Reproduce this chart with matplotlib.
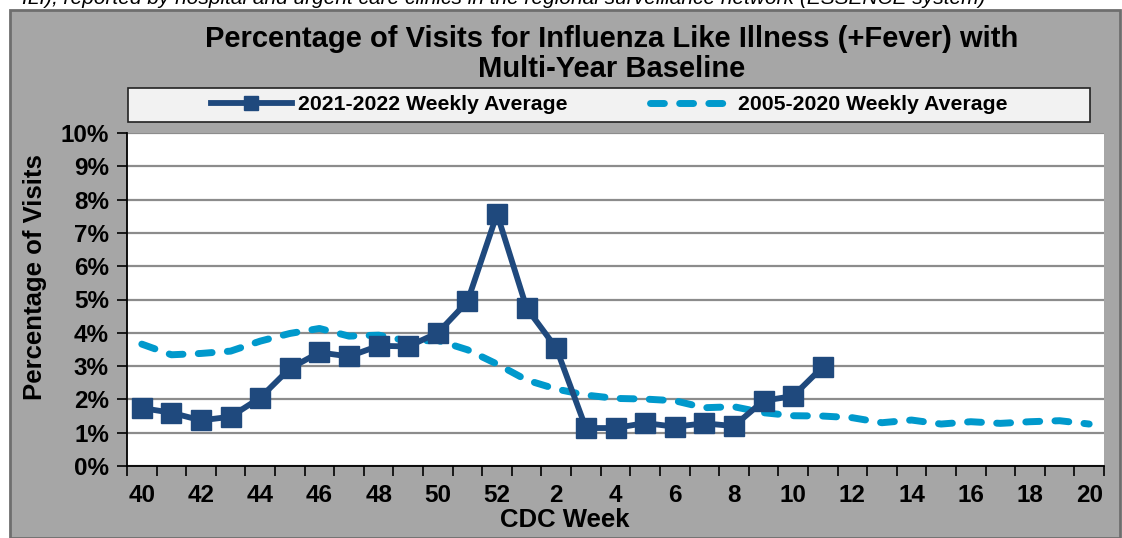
import matplotlib
matplotlib.use("Agg")
import matplotlib.pyplot as plt
from matplotlib.patches import Rectangle
import numpy as np

weeks = [40, 41, 42, 43, 44, 45, 46, 47, 48, 49, 50, 51, 52,
         1, 2, 3, 4, 5, 6, 7, 8, 9, 10, 11, 12, 13, 14, 15, 16, 17, 18, 19, 20]
season_2021 = [1.74, 1.60, 1.37, 1.48, 2.05, 2.93, 3.41, 3.29, 3.61, 3.59, 4.00, 4.94, 7.57,
               4.74, 3.54, 1.14, 1.14, 1.29, 1.18, 1.28, 1.20, 1.96, 2.10, 2.98]
baseline = [3.66, 3.34, 3.38, 3.45, 3.75, 3.98, 4.13, 3.90, 3.93, 3.75, 3.77, 3.49, 3.06,
            2.58, 2.31, 2.13, 2.03, 2.01, 1.96, 1.75, 1.78, 1.60, 1.51, 1.50, 1.45, 1.30,
            1.38, 1.26, 1.33, 1.28, 1.33, 1.36, 1.26]
yticks = [0, 1, 2, 3, 4, 5, 6, 7, 8, 9, 10]

title = "Percentage of Visits for Influenza Like Illness (+Fever) with\nMulti-Year Baseline"
label_2021 = "2021-2022 Weekly Average"
label_base = "2005-2020 Weekly Average"

W, H = 1122, 538
plt.rcParams['font.family'] = ['Liberation Sans', 'DejaVu Sans']
fig = plt.figure(figsize=(W / 100, H / 100), dpi=100)

# outer gray chart area
fig.patches.append(Rectangle((10 / W, 0), 1110 / W, 1 - 10 / H, transform=fig.transFigure,
                             facecolor='#a6a6a6', edgecolor='#6e6e6e', linewidth=2, zorder=-5))
# legend frame
fig.patches.append(Rectangle((128 / W, 1 - 122 / H), (1090 - 128) / W, 34 / H, transform=fig.transFigure,
                             facecolor='#f2f2f2', edgecolor='#222222', linewidth=1.2, zorder=-4))

# clipped caption at the top
fig.text(22 / W, 1 - 4 / H, "ILI), reported by hospital and urgent care clinics in the regional surveillance network (ESSENCE system)",
         fontsize=15, style='italic', va='baseline', ha='left', color='black')

ax = fig.add_axes([127 / W, 1 - 466 / H, (1104 - 127) / W, (466 - 133) / H])
ax.set_facecolor('white')
x = np.arange(len(weeks))
x21 = x[:len(season_2021)]

ax.plot(x, baseline, color='#0099cc', linewidth=5, linestyle=(0, (2.0, 2.2)),
        dash_capstyle='round', label=label_base, zorder=3)
ax.plot(x21, season_2021, color='#1f497d', linewidth=4.2, marker='s', markersize=15,
        label=label_2021, zorder=4)

ax.set_xlim(-0.5, len(weeks) - 0.5)
ax.set_ylim(0, 10)
ax.set_yticks(yticks)
ax.set_yticklabels([f"{v}%" for v in yticks])
ax.yaxis.grid(True, color='#8c8c8c', linewidth=1.6)
ax.set_axisbelow(True)

ax.set_xticks(x[::2])
ax.set_xticklabels([str(w) for w in weeks[::2]])
ax.set_xticks(np.arange(len(weeks) + 1) - 0.5, minor=True)
ax.tick_params(axis='x', which='major', length=0, pad=13)
ax.tick_params(axis='x', which='minor', length=7, width=1.2, direction='out')
ax.tick_params(axis='y', length=7, width=1.2, direction='out', pad=6)
for lab in ax.get_xticklabels() + ax.get_yticklabels():
    lab.set_fontsize(17.5)
    lab.set_fontweight('bold')

for s in ['top', 'right']:
    ax.spines[s].set_visible(False)
for s in ['left', 'bottom']:
    ax.spines[s].set_linewidth(1.3)
    ax.spines[s].set_color('black')

ax.set_xlabel("CDC Week", fontsize=18.5, fontweight='bold')
ax.xaxis.set_label_coords((565 - 127) / 977, -(520 - 466) / 333)
ax.xaxis.label.set_va('center')
ax.set_ylabel("Percentage of Visits", fontsize=18.5, fontweight='bold')
ax.yaxis.set_label_coords(-(127 - 35) / 977, (466 - 277) / 333)
ax.yaxis.label.set_va('center')

fig.text(612 / W, 1 - 54 / H, title, fontsize=21, fontweight='bold', ha='center', va='center',
         linespacing=1.05)

handles, labels = ax.get_legend_handles_labels()
leg = fig.legend(handles[::-1], labels[::-1], loc='center',
                 bbox_to_anchor=(609 / W, 1 - 105 / H),
                 ncol=2, frameon=False,
                 prop={'weight': 'bold', 'size': 15.3}, handlelength=3.8, handletextpad=0.3,
                 borderaxespad=0, columnspacing=3.9)
for h in leg.legend_handles:
    h.set_markersize(10)

fig.savefig("out.png", dpi=100)
